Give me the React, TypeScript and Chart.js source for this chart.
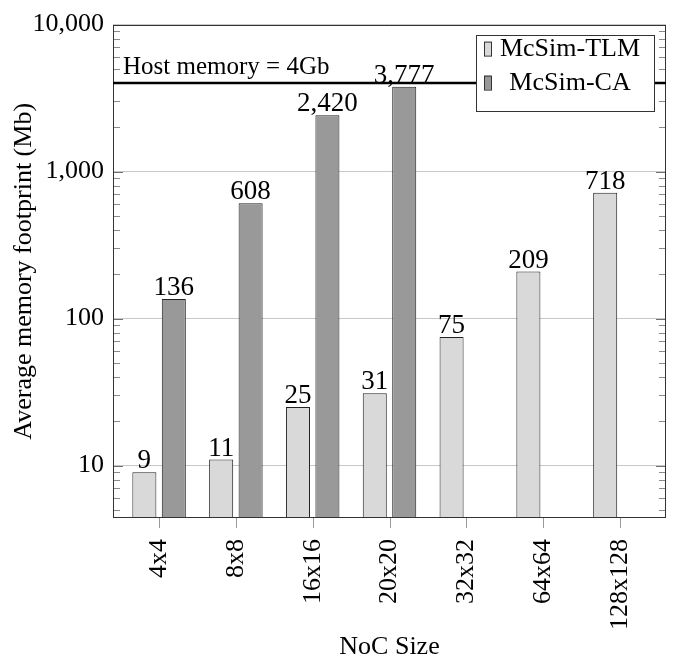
import React, { useEffect, useRef } from 'react';
import { Chart, registerables } from 'chart.js';

Chart.register(...registerables);

const categories = ['4x4', '8x8', '16x16', '20x20', '32x32', '64x64', '128x128'];
const tlmValues = [9, 11, 25, 31, 75, 209, 718];
const caValues: (number | null)[] = [136, 608, 2420, 3777, null, null, null];
const seriesNames = ['McSim-TLM', 'McSim-CA'];
const seriesColors = ['#d9d9d9', '#999999'];
const yTickValues = [10, 100, 1000, 10000];
const hostMemory = 4000;
const hostLabel = 'Host memory = 4Gb';
const xTitle = 'NoC Size';
const yTitle = 'Average memory footprint (Mb)';

const FONT = "'Liberation Serif', 'Times New Roman', serif";

const fmt = (v: number) => Number(v).toLocaleString('en-US');

const overlayPlugin = {
  id: 'overlay',
  afterDraw(chart: any) {
    const ctx = chart.ctx as CanvasRenderingContext2D;
    const { left, right, top, bottom } = chart.chartArea;
    const xs = chart.scales.x;
    const ys = chart.scales.y;
    ctx.save();

    // minor ticks
    ctx.lineWidth = 1;
    ctx.strokeStyle = '#8a8a8a';
    for (let d = 0; d <= 4; d++) {
      for (let k = 2; k <= 9; k++) {
        const v = k * Math.pow(10, d);
        if (v < ys.min || v > ys.max) continue;
        const y = Math.round(ys.getPixelForValue(v)) + 0.5;
        ctx.beginPath();
        ctx.moveTo(left, y);
        ctx.lineTo(left + 7, y);
        ctx.moveTo(right, y);
        ctx.lineTo(right - 7, y);
        ctx.stroke();
      }
    }
    // major ticks
    ctx.strokeStyle = '#707070';
    yTickValues.forEach((v) => {
      const y = Math.round(ys.getPixelForValue(v)) + 0.5;
      ctx.beginPath();
      ctx.moveTo(left, y);
      ctx.lineTo(left + 10, y);
      ctx.moveTo(right, y);
      ctx.lineTo(right - 10, y);
      ctx.stroke();
    });
    // x ticks
    ctx.strokeStyle = '#9a9a9a';
    categories.forEach((_, i) => {
      const x = Math.round(xs.getPixelForValue(i)) + 0.5;
      ctx.beginPath();
      ctx.moveTo(x, bottom);
      ctx.lineTo(x, bottom + 10);
      ctx.stroke();
    });

    // border
    ctx.strokeStyle = '#333333';
    ctx.lineWidth = 1;
    ctx.strokeRect(Math.round(left) + 0.5, Math.round(top) + 0.5, Math.round(right - left) - 1, Math.round(bottom - top) - 1);

    // bar value labels
    ctx.fillStyle = '#000';
    ctx.font = `27px ${FONT}`;
    ctx.textAlign = 'center';
    ctx.textBaseline = 'alphabetic';
    chart.data.datasets.forEach((ds: any, di: number) => {
      const meta = chart.getDatasetMeta(di);
      meta.data.forEach((el: any, i: number) => {
        const raw = ds.data[i];
        if (raw == null || raw.y == null) return;
        ctx.fillText(fmt(raw.y), el.x, el.y - 4);
      });
    });

    // host memory line
    const hy = ys.getPixelForValue(hostMemory);
    ctx.strokeStyle = '#000';
    ctx.lineWidth = 2.5;
    ctx.beginPath();
    ctx.moveTo(left, hy);
    ctx.lineTo(right, hy);
    ctx.stroke();
    ctx.textAlign = 'left';
    ctx.font = `25px ${FONT}`;
    ctx.fillText(hostLabel, left + 10, hy - 9);

    // legend
    const lw = 178;
    const lh = 76;
    const lx = right - 12 - lw;
    const ly = top + 10;
    ctx.fillStyle = '#fff';
    ctx.fillRect(lx, ly, lw, lh);
    ctx.strokeStyle = '#333';
    ctx.lineWidth = 1;
    ctx.strokeRect(Math.round(lx) + 0.5, Math.round(ly) + 0.5, lw, lh);
    ctx.font = `26px ${FONT}`;
    ctx.textAlign = 'center';
    ctx.textBaseline = 'middle';
    seriesNames.forEach((name, i) => {
      const cy = ly + 14 + i * 34;
      ctx.fillStyle = seriesColors[i];
      ctx.fillRect(lx + 8, cy - 7, 7, 14);
      ctx.strokeStyle = '#333';
      ctx.strokeRect(lx + 8.5, cy - 6.5, 7, 14);
      ctx.fillStyle = '#000';
      ctx.fillText(name, lx + 94, cy + 1);
    });

    // axis titles
    ctx.font = `26px ${FONT}`;
    ctx.fillStyle = '#000';
    ctx.textAlign = 'center';
    ctx.textBaseline = 'middle';
    ctx.fillText(xTitle, (left + right) / 2, 647);
    ctx.save();
    ctx.translate(24, (top + bottom) / 2);
    ctx.rotate(-Math.PI / 2);
    ctx.fillText(yTitle, 0, 0);
    ctx.restore();

    ctx.restore();
  },
};

export default function App() {
  const ref = useRef<HTMLCanvasElement | null>(null);
  useEffect(() => {
    if (!ref.current) return;
    const chart = new Chart(ref.current, {
      type: 'bar',
      data: {
        datasets: [
          {
            label: seriesNames[0],
            data: tlmValues.map((v, i) => ({ x: i, y: v })),
            backgroundColor: seriesColors[0],
            borderColor: '#222',
            borderWidth: 1,
            categoryPercentage: 0.767,
            barPercentage: 0.816,
          },
          {
            label: seriesNames[1],
            data: caValues.map((v, i) => ({ x: i, y: v })),
            backgroundColor: seriesColors[1],
            borderColor: '#222',
            borderWidth: 1,
            categoryPercentage: 0.767,
            barPercentage: 0.816,
          },
        ] as any,
      },
      options: {
        animation: false,
        responsive: false,
        devicePixelRatio: 1,
        layout: { padding: { top: 21, right: 7, left: 0, bottom: 0 } },
        plugins: { legend: { display: false }, tooltip: { enabled: false } },
        scales: {
          x: {
            type: 'linear',
            min: -0.6,
            max: 6.6,
            offset: false,
            grid: { display: false, drawTicks: false },
            border: { display: false },
            afterBuildTicks: (s: any) => {
              s.ticks = categories.map((_, i) => ({ value: i }));
            },
            afterFit: (s: any) => {
              s.height = 142;
            },
            ticks: {
              autoSkip: false,
              minRotation: 90,
              maxRotation: 90,
              padding: 21,
              color: '#000',
              font: { family: FONT, size: 26 },
              callback: (v: any) => categories[v as number] ?? '',
            },
          },
          y: {
            type: 'logarithmic',
            min: 4.4,
            max: 10000,
            grid: { color: '#c8c8c8', drawTicks: false, lineWidth: 1 },
            border: { display: false },
            afterBuildTicks: (s: any) => {
              s.ticks = yTickValues.map((v) => ({ value: v }));
            },
            afterFit: (s: any) => {
              s.width = 113;
            },
            ticks: {
              padding: 9,
              color: '#000',
              font: { family: FONT, size: 26 },
              callback: (v: any) => fmt(v),
            },
          },
        },
      } as any,
      plugins: [overlayPlugin],
    });
    return () => chart.destroy();
  }, []);
  return (
    <div style={{ position: 'absolute', left: 0, top: 0, width: 673, height: 660, background: '#fff' }}>
      <canvas ref={ref} width={673} height={660} style={{ display: 'block' }} />
    </div>
  );
}
